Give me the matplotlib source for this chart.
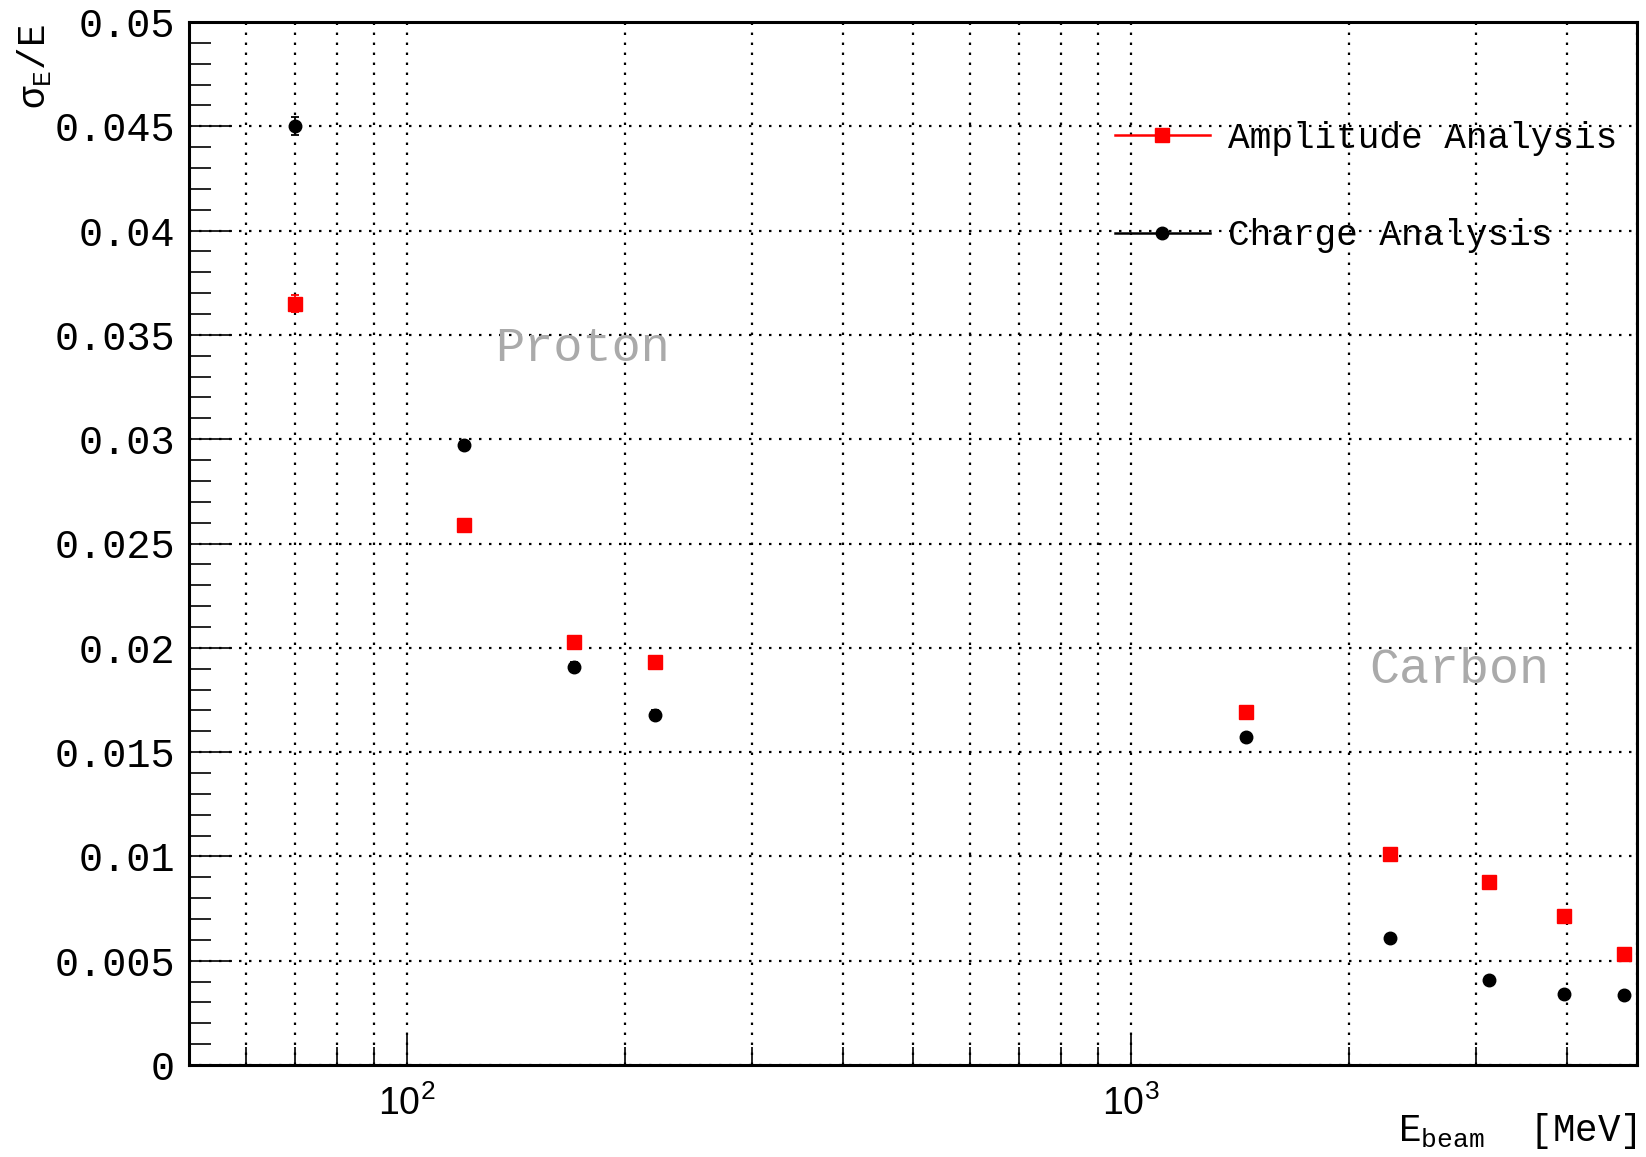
import numpy as np
import matplotlib.pyplot as plt
from matplotlib.lines import Line2D
from matplotlib.ticker import LogLocator, NullFormatter, MultipleLocator, FixedLocator, FixedFormatter

# beam energies [MeV]: protons, then carbon ions
energy = [70, 120, 170, 220, 1440, 2280, 3120, 3960, 4800]

amp_res = [0.0365, 0.0259, 0.0203, 0.0193, 0.0169, 0.0101, 0.00875, 0.00716, 0.00531]
amp_err = [0.00042, 0.0002, 0.0002, 0.0002, 0.0002, 0.0002, 0.0002, 0.0002, 0.0002]

charge_res = [0.0450, 0.0297, 0.0191, 0.0168, 0.0157, 0.00608, 0.00407, 0.0034, 0.00334]
charge_err = [0.00043, 0.0002, 0.0002, 0.0002, 0.0002, 0.0002, 0.0002, 0.0002, 0.0002]

y_ticks = [0, 0.005, 0.01, 0.015, 0.02, 0.025, 0.03, 0.035, 0.04, 0.045, 0.05]
y_labels = ["0", "0.005", "0.01", "0.015", "0.02", "0.025", "0.03", "0.035", "0.04", "0.045", "0.05"]

mono = "Liberation Mono"

fig = plt.figure(figsize=(16.46, 11.57), dpi=100)
ax = fig.add_axes([189/1646, 92/1157, 1448/1646, 1043/1157])

ax.errorbar(energy, amp_res, yerr=amp_err, fmt="s", color="red", ms=9.4,
            elinewidth=1.3, capsize=3.2, capthick=1.3, zorder=4)
ax.errorbar(energy, charge_res, yerr=charge_err, fmt="o", color="black", ms=9,
            elinewidth=1.3, capsize=3.2, capthick=1.3, zorder=4)

ax.set_xscale("log")
ax.set_xlim(50, 5000)
ax.set_ylim(0, 0.05)

ax.xaxis.set_major_locator(LogLocator(base=10))
ax.xaxis.set_minor_locator(LogLocator(base=10, subs=np.arange(2, 10), numticks=20))
ax.xaxis.set_minor_formatter(NullFormatter())
ax.yaxis.set_major_locator(FixedLocator(y_ticks))
ax.yaxis.set_major_formatter(FixedFormatter(y_labels))
ax.yaxis.set_minor_locator(MultipleLocator(0.001))

ax.tick_params(axis="y", which="major", direction="in", length=31, width=1.2, pad=10,
               labelsize=29, right=False)
ax.tick_params(axis="y", which="minor", direction="in", length=16, width=1.2, right=False)
ax.tick_params(axis="x", which="major", direction="in", length=23, width=1.2, pad=15,
               labelsize=27, top=False)
ax.tick_params(axis="x", which="minor", direction="in", length=13, width=1.2, top=False)
for lab in ax.get_yticklabels():
    lab.set_family(mono)
for lab in ax.get_xticklabels():
    lab.set_family("Liberation Sans")

for s in ax.spines.values():
    s.set_linewidth(2.2)

dots = (0, (1.1, 3.4))
ax.grid(True, which="both", axis="x", color="black", linestyle=dots, linewidth=1.6)
ax.grid(True, which="major", axis="y", color="black", linestyle=dots, linewidth=1.6)
ax.set_axisbelow(True)

ax.set_xlabel(r"$\mathregular{E_{beam}}$  [MeV]", family=mono, fontsize=27, loc="right")
ax.xaxis.set_label_coords(1.0, -0.044)
ax.set_ylabel(r"$\mathregular{σ_E}$/E", family=mono, fontsize=27, loc="top")
ax.yaxis.set_label_coords(-0.093, 0.998)

ax.text(175, 0.03375, "Proton", family=mono, fontsize=35, color="#aaaaaa", ha="center")
ax.text(2842, 0.0183, "Carbon", family=mono, fontsize=36, color="#aaaaaa", ha="center")

handles = [Line2D([], [], color="red", marker="s", ms=9.4, lw=1.8),
           Line2D([], [], color="black", marker="o", ms=9, lw=1.8)]
ax.legend(handles, ["Amplitude Analysis", "Charge Analysis"], loc="upper left",
          bbox_to_anchor=(1115/1646, 0.8955), bbox_transform=fig.transFigure,
          frameon=False, prop={"family": mono, "size": 26}, handlelength=2.63,
          handletextpad=0.5, labelspacing=1.73, borderpad=0, borderaxespad=0)

fig.savefig("out.png", dpi=100)
